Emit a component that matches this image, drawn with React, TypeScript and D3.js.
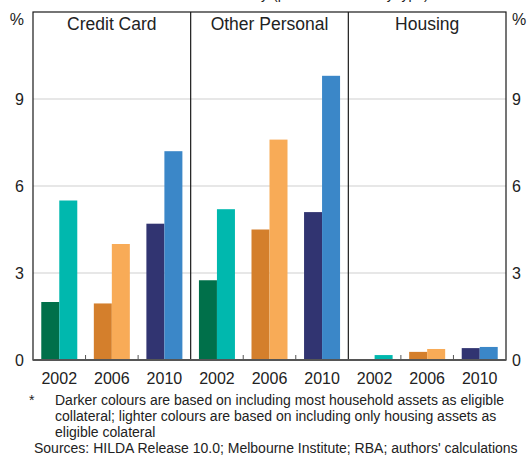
import React from "react";
import * as d3 from "d3";

const panels = ["Credit Card", "Other Personal", "Housing"];
const years = ["2002", "2006", "2010"];
// dark = most household assets, light = housing assets only
const darkValues = [
  [2.0, 1.95, 4.7],
  [2.75, 4.5, 5.1],
  [0.02, 0.28, 0.41],
];
const lightValues = [
  [5.5, 4.0, 7.2],
  [5.2, 7.6, 9.8],
  [0.17, 0.38, 0.45],
];
const darkColors = ["#00704a", "#d47f2c", "#313471"];
const lightColors = ["#00b8ae", "#f8ab57", "#3b87c8"];
const yTicks = [0, 3, 6, 9];

const W = 530;
const H = 455;
const left = 33;
const right = 506;
const top = 12;
const bottom = 360;
const font = "'Liberation Sans', Arial, sans-serif";

export default function App() {
  const y = d3.scaleLinear().domain([0, 12]).range([bottom, top]);
  const panelX = d3.scaleBand<number>().domain([0, 1, 2]).range([left, right]).padding(0);
  const pw = panelX.bandwidth();
  const groupX = d3.scaleBand<number>().domain([0, 1, 2]).range([0, pw]).padding(0);
  const gw = groupX.bandwidth();
  const barW = 18;

  return (
    <svg width={W} height={H} style={{ position: "absolute", left: 0, top: 0, background: "#fff" }} fontFamily={font}>
      <rect x={0} y={0} width={W} height={H} fill="#fff" />
      <text x={268} y={-1} textAnchor="end" fontSize={14} fill="#222">Debt-at-risk by</text>
      <text x={273} y={-1} textAnchor="start" fontSize={14} fill="#222">(per cent of debt by type)</text>
      {/* gridlines */}
      {yTicks.filter((t) => t > 0).map((t) => (
        <line key={t} x1={left} x2={right} y1={y(t)} y2={y(t)} stroke="#cfcfcf" strokeWidth={1.2} />
      ))}
      {/* bars */}
      {panels.map((p, pi) => (
        <g key={p} transform={`translate(${panelX(pi)},0)`}>
          {years.map((yr, gi) => {
            const cx = (groupX(gi) as number) + gw / 2;
            const dv = darkValues[pi][gi];
            const lv = lightValues[pi][gi];
            return (
              <g key={yr}>
                <rect x={cx - barW} y={y(dv)} width={barW} height={bottom - y(dv)} fill={darkColors[gi]} />
                <rect x={cx} y={y(lv)} width={barW} height={bottom - y(lv)} fill={lightColors[gi]} />
                <text x={cx} y={384} textAnchor="middle" fontSize={16} fill="#222">{yr}</text>
              </g>
            );
          })}
          {[1, 2].map((gi) => (
            <line key={gi} x1={groupX(gi)} x2={groupX(gi)} y1={bottom} y2={bottom - 5} stroke="#555" strokeWidth={1} />
          ))}
          <text x={pw / 2} y={30} textAnchor="middle" fontSize={17.5} fill="#222">{p}</text>
        </g>
      ))}
      {/* frame */}
      <rect x={left} y={top} width={right - left} height={bottom - top} fill="none" stroke="#1a1a1a" strokeWidth={1.2} />
      {[1, 2].map((pi) => (
        <line key={pi} x1={panelX(pi)} x2={panelX(pi)} y1={top} y2={bottom} stroke="#1a1a1a" strokeWidth={1.2} />
      ))}
      <line x1={left} x2={right} y1={bottom} y2={bottom} stroke="#555" strokeWidth={2} />
      {/* y labels */}
      {yTicks.map((t) => (
        <g key={t}>
          <text x={24} y={y(t) + 6} textAnchor="end" fontSize={16} fill="#222">{t}</text>
          <text x={512} y={y(t) + 6} textAnchor="start" fontSize={16} fill="#222">{t}</text>
        </g>
      ))}
      <text x={24} y={25} textAnchor="end" fontSize={16} fill="#222">%</text>
      <text x={512} y={25} textAnchor="start" fontSize={16} fill="#222">%</text>
      {/* footnotes */}
      <text x={29} y={405} fontSize={14} fill="#222">*</text>
      <text x={55} y={405} fontSize={14} fill="#222">Darker colours are based on including most household assets as eligible</text>
      <text x={55} y={421} fontSize={14} fill="#222">collateral; lighter colours are based on including only housing assets as</text>
      <text x={55} y={437} fontSize={14} fill="#222">eligible colateral</text>
      <text x={34} y={453} fontSize={14} fill="#222">Sources: HILDA Release 10.0; Melbourne Institute; RBA; authors' calculations</text>
    </svg>
  );
}
